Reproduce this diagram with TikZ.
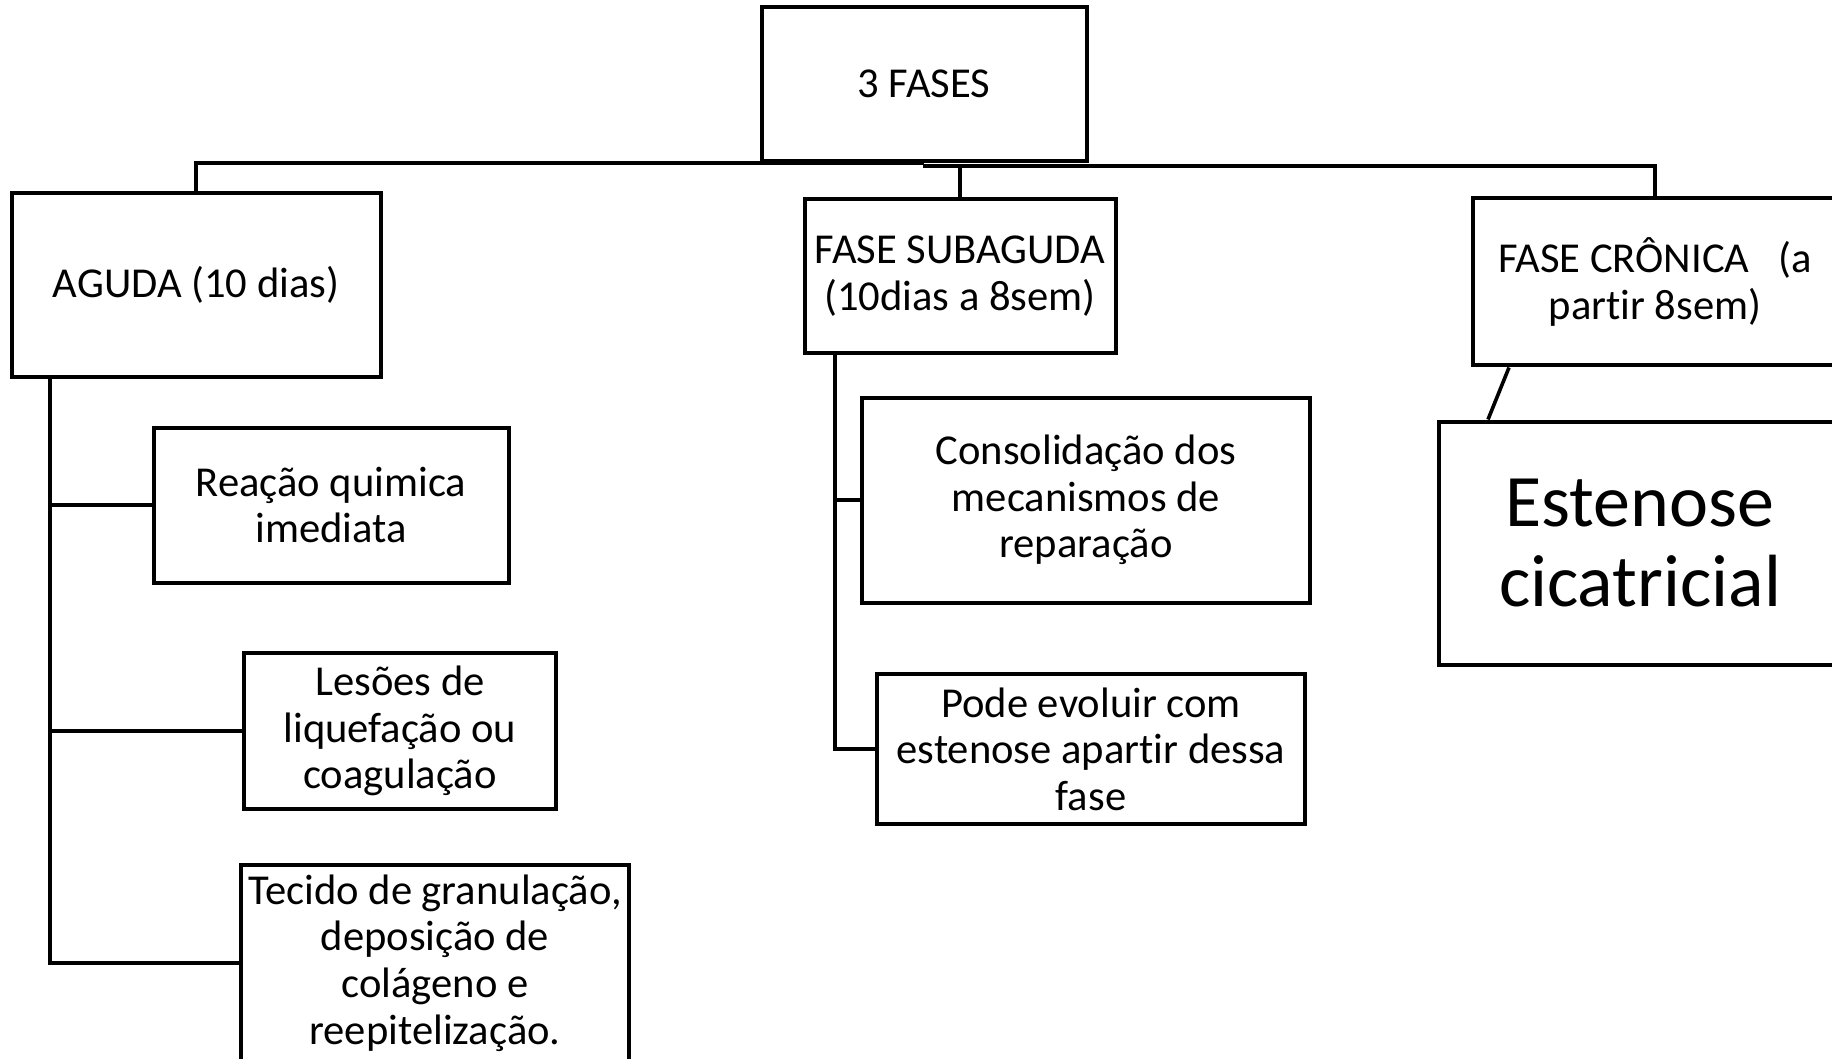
\documentclass[tikz,border=0pt]{standalone}
\usepackage{fontspec}
\setmainfont{Carlito}[Ligatures=NoCommon]
\usetikzlibrary{positioning, calc}
\tikzset{
  fasebox/.style={draw, line width=2pt, align=center, inner sep=0,
    font=\fontsize{21.3}{23.3}\selectfont},
  bigbox/.style={draw, line width=2pt, align=center, inner sep=0,
    font=\fontsize{37}{40.3}\selectfont},
  link/.style={line width=1.8pt}
}

\begin{document}
\begin{tikzpicture}[x=0.5pt, y=-0.5pt]

\clip (0,0) rectangle (1832,1059);

% top level
\node [fasebox, minimum width=325*0.5pt, minimum height=154*0.5pt] (fases) at (924,84) {3 FASES};

\node [fasebox, minimum width=369*0.5pt, minimum height=184*0.5pt] (aguda) at (196,285) {AGUDA (10 dias)};
\node [fasebox, minimum width=311*0.5pt, minimum height=154*0.5pt] (subaguda) at (960,276) {FASE SUBAGUDA\\(10dias a 8sem)};
\node [fasebox, minimum width=364*0.5pt, minimum height=167*0.5pt] (cronica) at (1655,282) {FASE CR\^ONICA\ \ \ (a\\partir 8sem)};

\coordinate (bus) at (923,166);
\draw [link] (aguda.north) |- (fases.south);
\draw [link] (cronica.north) |- (bus);
\draw [link] (subaguda.north) -- (subaguda.north |- bus);

% aguda
\node [fasebox, minimum width=355*0.5pt, minimum height=155*0.5pt] (reacao) at (331,505) {Reação quimica\\imediata};
\node [fasebox, minimum width=312*0.5pt, minimum height=156*0.5pt] (lesoes) at (400,731) {Lesões de\\liquefação ou\\coagulação};
\node [fasebox, minimum width=388*0.5pt, minimum height=196*0.5pt] (tecido) at (435,963) {Tecido de granulação,\\deposição de\\colágeno e\\reepitelização.};

\coordinate (atrunk) at (50,377);
\draw [link] (atrunk) |- (tecido.west);
\draw [link] (reacao.west) -- (reacao.west -| atrunk);
\draw [link] (lesoes.west) -- (lesoes.west -| atrunk);

% subaguda
\node [fasebox, minimum width=448*0.5pt, minimum height=205*0.5pt] (consol) at (1086,500) {Consolidação dos\\mecanismos de\\reparação};
\node [fasebox, minimum width=428*0.5pt, minimum height=150*0.5pt] (pode) at (1091,749) {Pode evoluir com\\estenose apartir dessa\\fase};

\coordinate (strunk) at (835,353);
\draw [link] (strunk) |- (pode.west);
\draw [link] (consol.west) -- (consol.west -| strunk);

% cronica
\node [bigbox, minimum width=402*0.5pt, minimum height=243*0.5pt] (estenose) at (1640,543) {Estenose\\cicatricial};
\draw [link] ([xshift=38*0.5pt]cronica.south west) -- ([xshift=51*0.5pt]estenose.north west);

\end{tikzpicture}
\end{document}
